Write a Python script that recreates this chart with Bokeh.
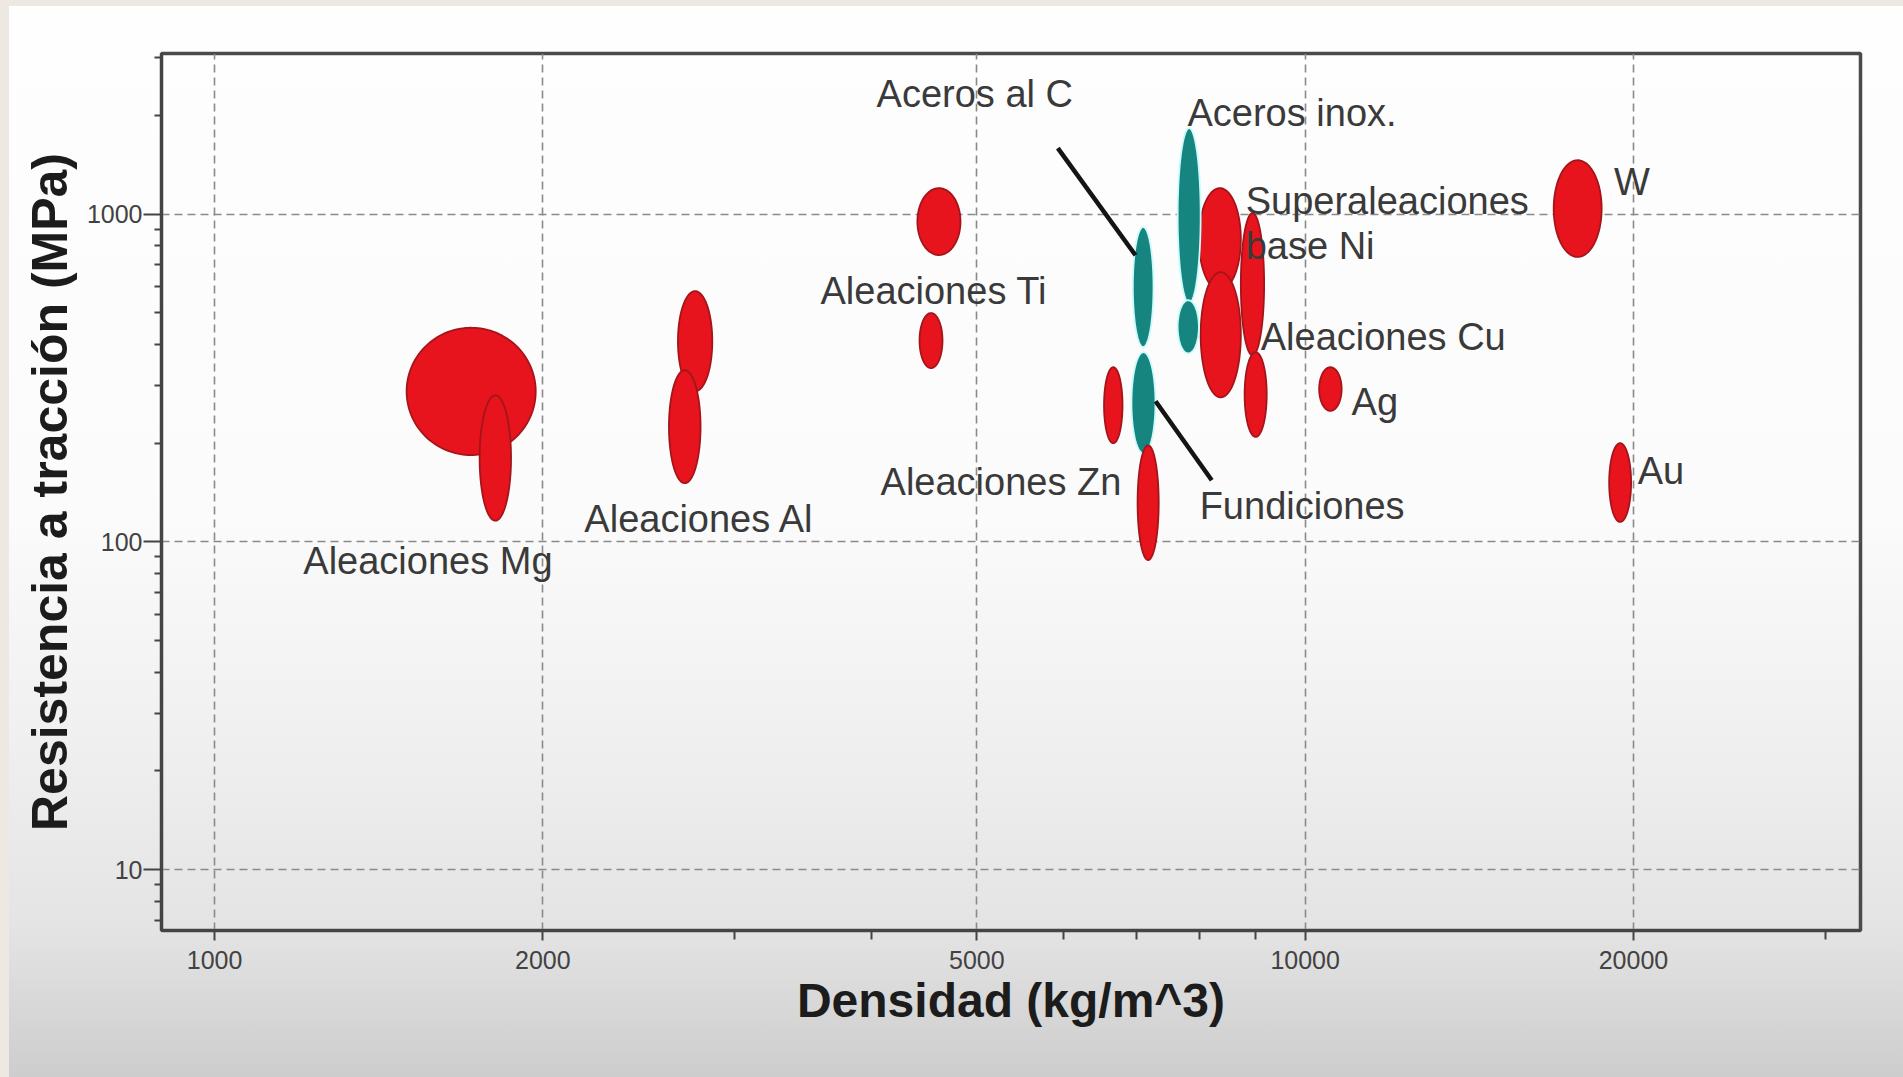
import numpy as np
from bokeh.plotting import figure
from bokeh.models import Range1d, FixedTicker, NumeralTickFormatter, ColumnDataSource
from bokeh.embed import file_html
from bokeh.resources import INLINE
from bokeh.core.properties import value

# --- Property ranges of each material family (one ellipse per row) ---
# density in kg/m^3, tensile strength in MPa
family = ["Mg", "Mg", "Al", "Al", "Ti", "Ti", "Zn", "Ni", "Cu", "Cu", "Cu",
          "Ag", "W", "Au", "Acero C", "Fundición", "Acero inox", "Acero inox", "Zn"]
group = ["nf", "nf", "nf", "nf", "nf", "nf", "nf", "nf", "nf", "nf", "nf",
         "nf", "nf", "nf", "fe", "fe", "fe", "fe", "nf"]
dens_lo = [1500, 1750, 2660, 2610, 4410, 4430, 6540, 7990, 8020, 8730, 8800,
           10300, 16900, 19000, 6950, 6930, 7640, 7640, 7020]
dens_hi = [1970, 1870, 2860, 2790, 4830, 4650, 6800, 8730, 8730, 9170, 9220,
           10800, 18700, 19900, 7260, 7290, 8020, 7990, 7340]
sigma_lo = [184, 116, 288, 151, 750, 339, 200, 586, 276, 371, 209,
            251, 740, 115, 393, 186, 535, 376, 88]
sigma_hi = [450, 280, 582, 334, 1200, 499, 341, 1200, 665, 1007, 379,
            341, 1460, 200, 913, 379, 1830, 546, 197]

# --- Annotations ---
label_text = ["Aceros al C", "Aceros inox.", "Superaleaciones", "base Ni", "W",
              "Aleaciones Ti", "Aleaciones Cu", "Ag", "Au", "Aleaciones Zn",
              "Fundiciones", "Aleaciones Al", "Aleaciones Mg"]
label_x = [4046, 7800, 8820, 8820, 19190, 3594, 9104, 11030, 20180, 4080,
           8003, 2183, 1206]
label_y = [2332, 2040, 1099, 801, 1256, 584, 423, 268, 164, 152.6,
           128.9, 117.6, 87.6]

# leader lines (label -> ellipse)
leader_x0 = [5932, 7292]
leader_y0 = [1590, 268.6]
leader_x1 = [6989, 8210]
leader_y1 = [749, 154.2]

# --- Axis ticks ---
x_major = [1000, 2000, 5000, 10000, 20000]
x_minor = [3000, 4000, 6000, 7000, 8000, 9000, 30000]
y_major = [10, 100, 1000]
y_minor = [7, 8, 9, 20, 30, 40, 50, 60, 70, 80, 90,
           200, 300, 400, 500, 600, 700, 800, 900, 2000, 3000]

FILL = {"nf": "#e8141d", "fe": "#16857f"}
EDGE = {"nf": "#a3151b", "fe": "#c9fbfb"}

# ellipse outlines, built in log space so they stay elliptical on log axes
t = np.linspace(0, 2 * np.pi, 160)
xs, ys = [], []
for lo, hi, slo, shi in zip(dens_lo, dens_hi, sigma_lo, sigma_hi):
    cx = (np.log10(lo) + np.log10(hi)) / 2
    ax = (np.log10(hi) - np.log10(lo)) / 2
    cy = (np.log10(slo) + np.log10(shi)) / 2
    ay = (np.log10(shi) - np.log10(slo)) / 2
    xs.append(list(10 ** (cx + ax * np.cos(t))))
    ys.append(list(10 ** (cy + ay * np.sin(t))))

blobs = ColumnDataSource(dict(xs=xs, ys=ys, family=family,
                              fill=[FILL[g] for g in group],
                              edge=[EDGE[g] for g in group]))

p = figure(width=1903, height=1077, x_axis_type="log", y_axis_type="log",
           x_range=Range1d(894, 32300), y_range=Range1d(6.52, 3090),
           output_backend="svg", toolbar_location=None,
           min_border_left=161, min_border_right=43,
           min_border_top=53, min_border_bottom=147)

p.styles = {"background": (
    "linear-gradient(to right, #ede9e2 0px, #ede9e2 9px, transparent 9px), "
    "linear-gradient(to bottom, #ede9e2 0px, #ede9e2 6px, transparent 6px), "
    "linear-gradient(to bottom, #fefefe 0%, #fbfbfb 48%, #f0f0f0 68%, "
    "#e4e4e4 86%, #cdcdcd 100%)")}
p.background_fill_alpha = 0
p.border_fill_alpha = 0
p.outline_line_color = "#4a4a4a"
p.outline_line_width = 3.5

p.patches("xs", "ys", source=blobs, fill_color="fill", line_color="edge",
          line_width=1.8)

p.segment(leader_x0, leader_y0, leader_x1, leader_y1, line_color="#141414",
          line_width=4.5)

p.text(x=label_x, y=label_y, text=label_text, text_font=value("Liberation Sans"),
       text_font_size="38px", text_color="#3a3a3a", text_align="left",
       text_baseline="alphabetic")

# grid
for g in (p.xgrid, p.ygrid):
    g.grid_line_color = "#8a8a8a"
    g.grid_line_dash = "8 5"
    g.grid_line_width = 1.6

# axes
p.xaxis.ticker = FixedTicker(ticks=x_major, minor_ticks=x_minor)
p.yaxis.ticker = FixedTicker(ticks=y_major, minor_ticks=y_minor)
p.axis.formatter = NumeralTickFormatter(format="0")
p.axis.axis_line_color = "#444444"
p.axis.axis_line_width = 3
p.axis.major_tick_line_color = "#444444"
p.axis.minor_tick_line_color = "#444444"
p.axis.major_tick_line_width = 2
p.axis.minor_tick_line_width = 2
p.axis.major_tick_in = 0
p.axis.minor_tick_in = 0
p.xaxis.major_tick_out = 10
p.xaxis.minor_tick_out = 9
p.yaxis.major_tick_out = 18
p.yaxis.minor_tick_out = 7
p.axis.major_label_text_font = "Liberation Sans"
p.axis.major_label_text_font_size = "25px"
p.axis.major_label_text_color = "#424242"
p.xaxis.major_label_standoff = 10
p.yaxis.major_label_standoff = 1

p.xaxis.axis_label = "Densidad (kg/m^3)"
p.yaxis.axis_label = "Resistencia a tracción (MPa)"
p.axis.axis_label_text_font = "Liberation Sans"
p.axis.axis_label_text_font_style = "bold"
p.xaxis.axis_label_text_font_size = "48px"
p.yaxis.axis_label_text_font_size = "50px"
p.axis.axis_label_text_color = "#1c1c1c"
p.xaxis.axis_label_standoff = 2
p.yaxis.axis_label_standoff = 6

open("out.html", "w").write(file_html(p, INLINE))
